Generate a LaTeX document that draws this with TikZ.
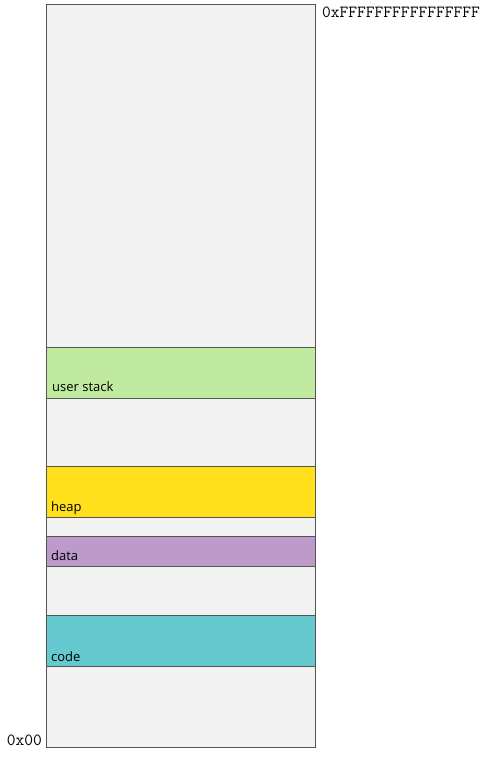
\documentclass[tikz,border=0pt]{standalone}
\usepackage{fontspec}
\setmainfont{Open Sans}
\definecolor{bgfill}{HTML}{F2F2F2}
\definecolor{stackc}{HTML}{C0EAA0}
\definecolor{heapc}{HTML}{FFE01A}
\definecolor{datac}{HTML}{BC9BCB}
\definecolor{codec}{HTML}{66C9D0}
\definecolor{edge}{HTML}{555555}
\begin{document}
\begin{tikzpicture}[x=1pt,y=-1pt,
  band/.style={draw=edge, line width=0.7pt},
  lbl/.style={anchor=base west, inner sep=0pt, font=\fontsize{13}{15}\selectfont},
  addr/.style={inner sep=0pt, font=\ttfamily\fontsize{17}{19}\selectfont}]
\useasboundingbox (0,0) rectangle (482,763);
\fill[bgfill] (46,4) rectangle (315,747);
\filldraw[band, fill=stackc] (46,347) rectangle (315,398);
\filldraw[band, fill=heapc] (46,466) rectangle (315,517);
\filldraw[band, fill=datac] (46,536) rectangle (315,566);
\filldraw[band, fill=codec] (46,615) rectangle (315,666);
\draw[draw=edge, line width=0.7pt] (46,4) rectangle (315,747);
\node[lbl] (us) at (52,391) {user stack};
\node[lbl] (hp) at (51,511) {heap};
\node[lbl] (dt) at (51,560) {data};
\node[lbl] (cd) at (51,661) {code};
\node[addr, anchor=base west] (top) at (322,17) {0xFFFFFFFFFFFFFFFF};
\node[addr, anchor=base east] (bot) at (42,745) {0x00};
\end{tikzpicture}
\end{document}
